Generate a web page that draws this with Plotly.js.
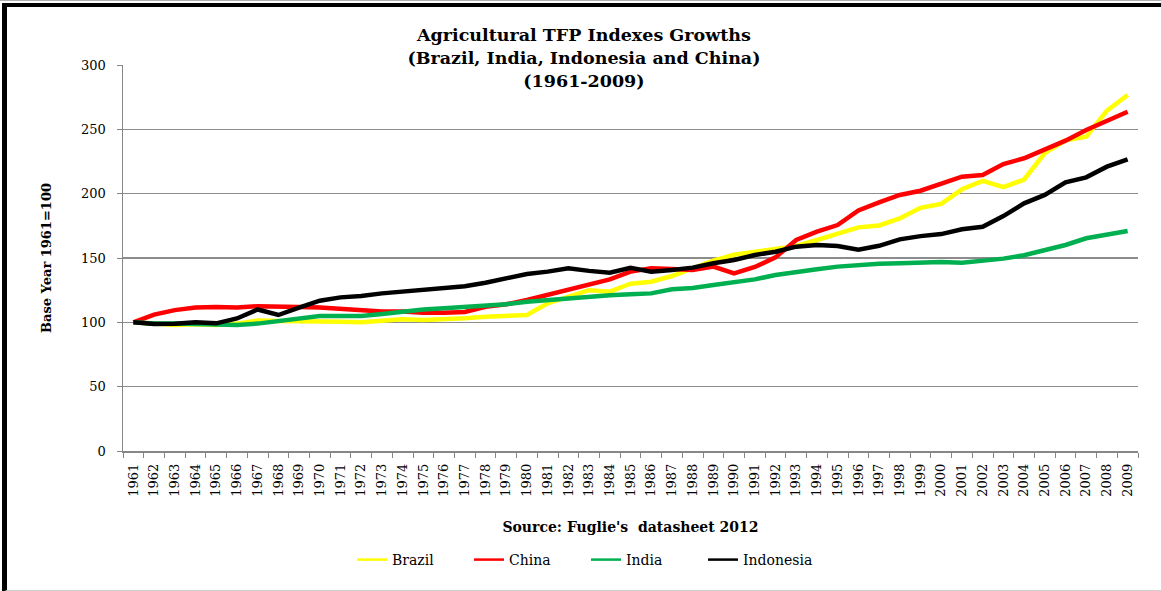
<!DOCTYPE html>
<html>
<head>
<meta charset="utf-8">
<script src="https://cdn.plot.ly/plotly-3.0.1.min.js"></script>
<style>
html,body{margin:0;padding:0;background:#fff;}
#wrap{position:relative;width:1161px;height:591px;overflow:hidden;}
#chart{position:absolute;left:0;top:0;width:1161px;height:591px;}
#frame{position:absolute;left:2px;top:3px;width:1170px;height:583px;border-top:4px solid #000;border-left:5px solid #000;border-bottom:2px solid #d0d0d0;pointer-events:none;}
#topline{position:absolute;left:0;top:0;width:1161px;height:1px;background:#b0b0b0;pointer-events:none;}
</style>
</head>
<body>
<div id="wrap">
<div id="chart"></div>
<div id="topline"></div>
<div id="frame"></div>
</div>
<script>
const years = ['1961','1962','1963','1964','1965','1966','1967','1968','1969','1970',
'1971','1972','1973','1974','1975','1976','1977','1978','1979','1980',
'1981','1982','1983','1984','1985','1986','1987','1988','1989','1990',
'1991','1992','1993','1994','1995','1996','1997','1998','1999','2000',
'2001','2002','2003','2004','2005','2006','2007','2008','2009'];

const brazil = [100,99,98,98.5,98,99,101.5,101,101,101,
100.5,100,101.5,102.3,101.8,102.3,103.1,104.4,105,105.7,
114.8,120,125,123.8,130,131.6,136,142,148,152.5,
154.9,157,159.3,164,169.2,173.8,175.3,180.8,189,192,
203.4,210,205,211,231.6,241.5,244.3,264.5,276.7];

const china = [100,106,109.5,111.5,112,111.5,112.5,112.5,112,111.5,
110.5,109,108.5,108.5,107.5,107.5,108,112,114,117.4,
121.2,125,129,133.4,139.4,142,141.4,140.7,143.3,138.1,
143,150.5,164,170.5,175.6,187,193.3,199,202.3,208,
213.2,214.5,223,227.5,234.7,241.2,249.5,256.7,263.7];

const india = [100,99,99,98.7,98,98,99,101,103,104.9,
104.9,105,106.5,108.5,110,110.9,112,112.9,114,116,
117.4,119,120.2,121,121.8,122.5,125.7,126.7,129,130.8,
133.4,136.8,139.4,141.2,143.3,144.8,145.5,146,146.3,146.9,
146.3,147.9,149.5,152.1,155.7,160.1,165.3,167.9,171];

const indonesia = [100,98.7,98.9,100,99.2,103,110,105.7,111.5,116.8,
119.4,120.5,122.5,124,125.5,127.2,128,130.8,134.2,137.6,
139.4,142,140,138.6,142.3,139.4,140.7,142.5,145.9,148.4,
152.3,154.9,158.8,160.1,159.3,156.5,159.5,164.5,167,168.6,
172.3,174.3,182.6,192.5,199,208.8,212.7,221,226.7];

const seriesNames = ['Brazil','China','India','Indonesia'];
const seriesColors = ['#FFFF00','#FF0000','#00B050','#000000'];
const seriesValues = [brazil, china, india, indonesia];

const serif = '"DejaVu Serif", "Liberation Serif", serif';

const traces = [];
seriesValues.forEach((vals, i) => {
  traces.push({
    x: years, y: vals, type: 'scatter', mode: 'lines',
    name: seriesNames[i], showlegend: false,
    line: {color: seriesColors[i], width: 4.5, shape: 'linear'},
    hoverinfo: 'skip'
  });
});
seriesValues.forEach((vals, i) => {
  traces.push({
    x: [years[0]], y: [null], type: 'scatter', mode: 'lines',
    name: seriesNames[i], showlegend: true,
    line: {color: seriesColors[i], width: 2.5}
  });
});

const layout = {
  width: 1161, height: 591,
  margin: {l: 123, r: 23, t: 65, b: 140, autoexpand: false},
  paper_bgcolor: '#ffffff', plot_bgcolor: '#ffffff',
  font: {family: serif, color: '#000'},
  title: {
    text: 'Agricultural TFP Indexes Growths<br>(Brazil, India, Indonesia and China)<br>(1961-2009)',
    font: {family: serif, size: 17.5, weight: 'bold', color: '#000'},
    xref: 'container', x: 0.503, xanchor: 'center',
    yref: 'container', y: 1 - 41/591, yanchor: 'top'
  },
  xaxis: {
    type: 'category', range: [-0.5, 48.5],
    showline: true, linecolor: '#868686', linewidth: 1.5,
    ticks: 'outside', tickson: 'boundaries', ticklen: 5, tickcolor: '#868686', tickwidth: 1,
    tickangle: -90, showgrid: false, zeroline: false,
    ticklabelstandoff: 6,
    tickfont: {family: serif, size: 13, color: '#000'},
    automargin: false,
    title: {text: "Source: Fuglie's  datasheet 2012", standoff: 26,
      font: {family: serif, size: 14, weight: 'bold', color: '#000'}}
  },
  yaxis: {
    range: [0, 300], dtick: 50, tick0: 0,
    showline: true, linecolor: '#868686', linewidth: 1.5,
    ticks: 'outside', ticklen: 5, tickcolor: '#868686',
    showgrid: true, gridcolor: '#8c8c8c', gridwidth: 1.5,
    zeroline: false,
    ticklabelstandoff: 8,
    tickfont: {family: serif, size: 13, color: '#000'},
    automargin: false,
    title: {text: 'Base Year 1961=100', standoff: 26,
      font: {family: serif, size: 13, weight: 'bold', color: '#000'}}
  },
  legend: {
    orientation: 'h', x: (586-123)/1015, xanchor: 'center',
    y: -109/386, yanchor: 'middle',
    font: {family: serif, size: 14, color: '#000'},
    entrywidth: 72, entrywidthmode: 'pixels',
    bgcolor: 'rgba(0,0,0,0)', traceorder: 'normal'
  },
  showlegend: true
};

Plotly.newPlot('chart', traces, layout, {displayModeBar: false, staticPlot: true});
</script>
</body>
</html>
